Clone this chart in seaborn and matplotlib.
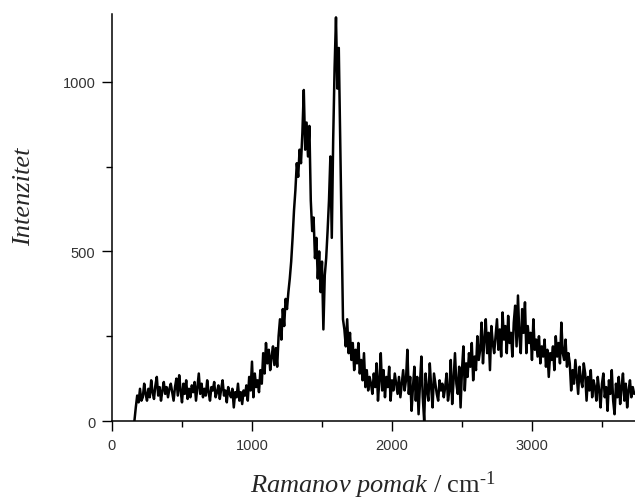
import numpy as np
import pandas as pd
import matplotlib
matplotlib.use("Agg")
import matplotlib.pyplot as plt
import seaborn as sns

# Raman shift grid (cm-1), 10 cm-1 step
shift_start, shift_stop, shift_step = 160, 3730, 10

# Intensity values (one row per 100 cm-1)
intensity = [
    0, 40, 75, 55, 95, 60, 70, 110, 80, 60,            # 160-250
    95, 70, 120, 85, 65, 105, 130, 75, 100, 60,        # 260-350
    90, 115, 80, 100, 70, 95, 110, 85, 60, 100,        # 360-450
    125, 75, 135, 90, 55, 110, 80, 120, 65, 95,        # 460-550
    70, 105, 85, 115, 60, 100, 140, 80, 110, 70,       # 560-650
    95, 75, 120, 85, 60, 100, 90, 115, 70, 85,         # 660-750
    105, 65, 95, 120, 75, 90, 55, 100, 80, 70,         # 760-850
    95, 40, 85, 70, 110, 60, 85, 50, 90, 75,           # 860-950
    105, 60, 130, 90, 175, 70, 140, 100, 120, 85,      # 960-1050
    150, 110, 200, 140, 230, 170, 210, 150, 190, 220,  # 1060-1150
    165, 215, 160, 250, 300, 240, 330, 280, 360, 330,  # 1160-1250
    380, 420, 470, 540, 620, 680, 760, 720, 800, 760,  # 1260-1350
    850, 976, 800, 880, 780, 870, 650, 560, 600, 480,  # 1360-1450
    540, 420, 500, 380, 470, 270, 430, 480, 560, 650,  # 1460-1550
    780, 540, 830, 1040, 1190, 980, 1100, 830, 560, 300,  # 1560-1650
    270, 220, 300, 200, 260, 180, 230, 150, 210, 170,  # 1660-1750
    230, 140, 180, 120, 200, 100, 150, 90, 130, 110,   # 1760-1850
    80, 140, 100, 170, 60, 120, 200, 90, 150, 70,      # 1860-1950
    130, 100, 160, 60, 120, 90, 140, 110, 80, 130,     # 1960-2050
    70, 110, 150, 90, 120, 210, 80, 130, 30, 100,      # 2060-2150
    160, 60, 130, 20, 110, 190, 70, 0, 140, 90,        # 2160-2250
    60, 170, 100, 40, 140, 110, 80, 60, 120, 90,       # 2260-2350
    110, 70, 100, 140, 60, 90, 180, 50, 120, 200,      # 2360-2450
    110, 80, 160, 40, 150, 220, 90, 170, 130, 200,     # 2460-2550
    160, 230, 120, 190, 150, 250, 180, 210, 290, 170,  # 2560-2650
    240, 300, 200, 260, 150, 280, 230, 200, 250, 300,  # 2660-2750
    210, 270, 190, 320, 240, 280, 200, 310, 230, 260,  # 2760-2850
    190, 290, 340, 220, 370, 250, 200, 330, 260, 350,  # 2860-2950
    200, 280, 230, 260, 180, 300, 210, 240, 190, 250,  # 2960-3050
    170, 220, 190, 240, 160, 210, 130, 200, 180, 220,  # 3060-3150
    150, 250, 190, 230, 170, 290, 200, 180, 240, 160,  # 3160-3250
    200, 170, 90, 150, 110, 180, 130, 80, 160, 120,    # 3260-3350
    100, 170, 140, 60, 130, 90, 150, 70, 120, 100,     # 3360-3450
    60, 130, 90, 40, 110, 140, 70, 100, 30, 120,       # 3460-3550
    80, 150, 60, 20, 110, 70, 130, 50, 100, 140,       # 3560-3650
    60, 110, 40, 90, 120, 70, 100, 80,                 # 3660-3730
]

x_ticks = [0, 1000, 2000, 3000]
y_ticks = [0, 500, 1000]
x_label_it = "Ramanov pomak"
x_label_unit = " / cm$^{\\text{-1}}$"
y_label = "Intenzitet"

shift = np.arange(shift_start, shift_stop + 1, shift_step)
df = pd.DataFrame({"shift": shift, "intensity": intensity})

sns.set_theme(style="ticks")
plt.rcParams["font.family"] = ["Liberation Sans", "DejaVu Sans"]
plt.rcParams["mathtext.fontset"] = "custom"
plt.rcParams["mathtext.rm"] = "Liberation Serif"
plt.rcParams["mathtext.it"] = "Liberation Serif:italic"

fig = plt.figure(figsize=(6.35, 5.02), dpi=100)
ax = fig.add_axes([112 / 635, 1 - 422 / 502, 1 - 112 / 635, (422 - 15) / 502])

sns.lineplot(data=df, x="shift", y="intensity", ax=ax, color="black",
             linewidth=1.8, estimator=None, sort=False)

ax.set_xlim(0, 3736)
ax.set_ylim(0, 1200)
ax.set_xticks(x_ticks)
ax.set_yticks(y_ticks)
ax.set_xticks([500, 1500, 2500, 3500], minor=True)
ax.set_yticks([250, 750], minor=True)
ax.set_xlabel("")
ax.set_ylabel("")
sns.despine(ax=ax, top=True, right=True)
for s in ("left", "bottom"):
    ax.spines[s].set_linewidth(1.1)
    ax.spines[s].set_color("black")
ax.tick_params(which="major", length=7, width=1.0, color="black",
               labelsize=10.5, labelcolor="#333333", pad=5)
ax.tick_params(which="minor", length=4, width=1.0, color="black")

fig.text(0.038, 1 - 197 / 502, y_label, rotation=90, ha="center", va="center",
         fontsize=19, fontstyle="italic", family="Liberation Serif")
fig.text(373 / 635, 1 - 493 / 502,
         "$\\mathit{" + x_label_it.replace(" ", "\\ ") + "}$" + x_label_unit,
         ha="center", va="baseline", fontsize=19, family="Liberation Serif")

fig.savefig("out.png", dpi=100)
